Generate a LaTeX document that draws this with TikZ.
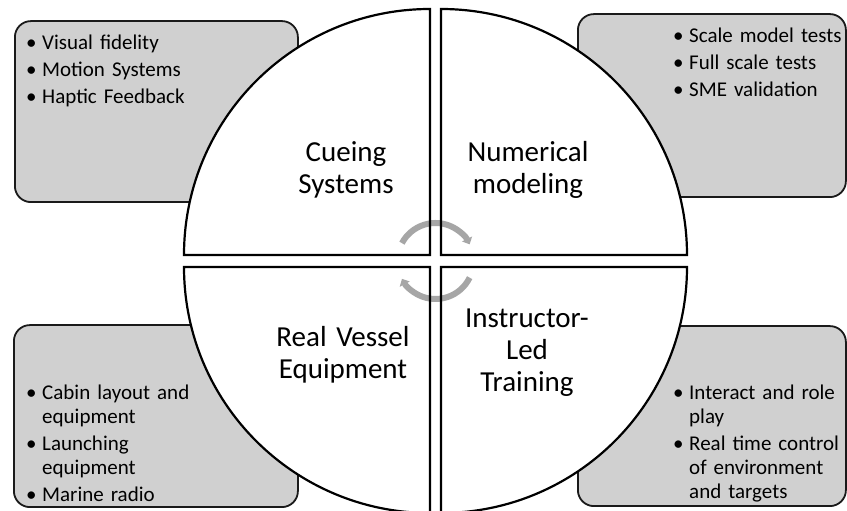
\documentclass[tikz,border=0pt]{standalone}
\usepackage{fontspec}
\setmainfont{Carlito}
\usetikzlibrary{arrows.meta}
\definecolor{panelgray}{HTML}{D0D0D0}
\definecolor{cyclegray}{HTML}{A6A6A6}
\definecolor{edgeblack}{HTML}{1A1A1A}
\newcommand{\bitem}[1]{\setlength{\parskip}{3pt}\hangindent=16pt\hangafter=1\makebox[16pt][l]{\textbullet}#1\par}
\tikzset{
  infobox/.style={
    draw=edgeblack,
    line width=1.8pt,
    fill=panelgray,
    rounded corners=16pt,
    inner sep=0pt,
    anchor=south west
  },
  quarteredge/.style={draw=black, line width=2.2pt},
  quadtext/.style={
    font=\fontsize{29}{32}\selectfont,
    text width=170pt,
    align=center,
    inner sep=0pt,
    anchor=base
  },
  bulletlist/.style={
    font=\fontsize{21}{24}\selectfont,
    text width=260pt,
    align=left,
    inner sep=0pt,
    anchor=base west
  },
  cyclearrow/.style={draw=cyclegray, line width=6pt, -{Triangle[width=11pt,length=6pt]}}
}

\begin{document}
\begin{tikzpicture}[x=1pt,y=1pt]
\useasboundingbox (0,0) rectangle (847,511);
\fill[white] (0,0) rectangle (847,511);

% grey side panels
\node[infobox,minimum width=283,minimum height=181] (cuebox) at (14,308) {};
\node[infobox,minimum width=268,minimum height=183] (numbox) at (577,313) {};
\node[infobox,minimum width=284,minimum height=182] (vesselbox) at (13,3) {};
\node[infobox,minimum width=268,minimum height=180] (instrbox) at (577,4) {};

% the four quarter discs
\coordinate (hub) at (435.5,250);
\foreach \cx/\cy/\a in {430/256/90, 441/256/0, 430/244/180, 441/244/270}
  \fill[white] (\cx,\cy) -- ++(\a:246) arc[start angle=\a, end angle=\a+90, radius=246] -- cycle;

\draw[cyclearrow] (hub) ++(152:38) arc[start angle=152, end angle=26, radius=38];
\draw[cyclearrow] (hub) ++(-26:38) arc[start angle=-26, end angle=-152, radius=38];

\foreach \cx/\cy/\a in {430/256/90, 441/256/0, 430/244/180, 441/244/270}
  \draw[quarteredge] (\cx,\cy) -- ++(\a:246) arc[start angle=\a, end angle=\a+90, radius=246] -- cycle;

\node[quadtext] (cueing) at (346,349) {Cueing\\Systems};
\node[quadtext] (numerical) at (528,349) {Numerical\\modeling};
\node[quadtext] (vessel) at (343,164) {Real Vessel\\Equipment};
\node[quadtext] (instructor) at (527,183) {Instructor-\\Led\\Training};

\node[bulletlist] (cuelist) at (26,461) {\bitem{Visual fidelity}\bitem{Motion Systems}\bitem{Haptic Feedback}};
\node[bulletlist] (numlist) at (673,468) {\bitem{Scale model tests}\bitem{Full scale tests}\bitem{SME validation}};
\node[bulletlist] (vessellist) at (26,111) {\bitem{Cabin layout and\newline equipment}\bitem{Launching\newline equipment}\bitem{Marine radio}};
\node[bulletlist] (instrlist) at (673,111) {\bitem{Interact and role\newline play}\bitem{Real time control\newline of environment\newline and targets}};
\end{tikzpicture}
\end{document}
